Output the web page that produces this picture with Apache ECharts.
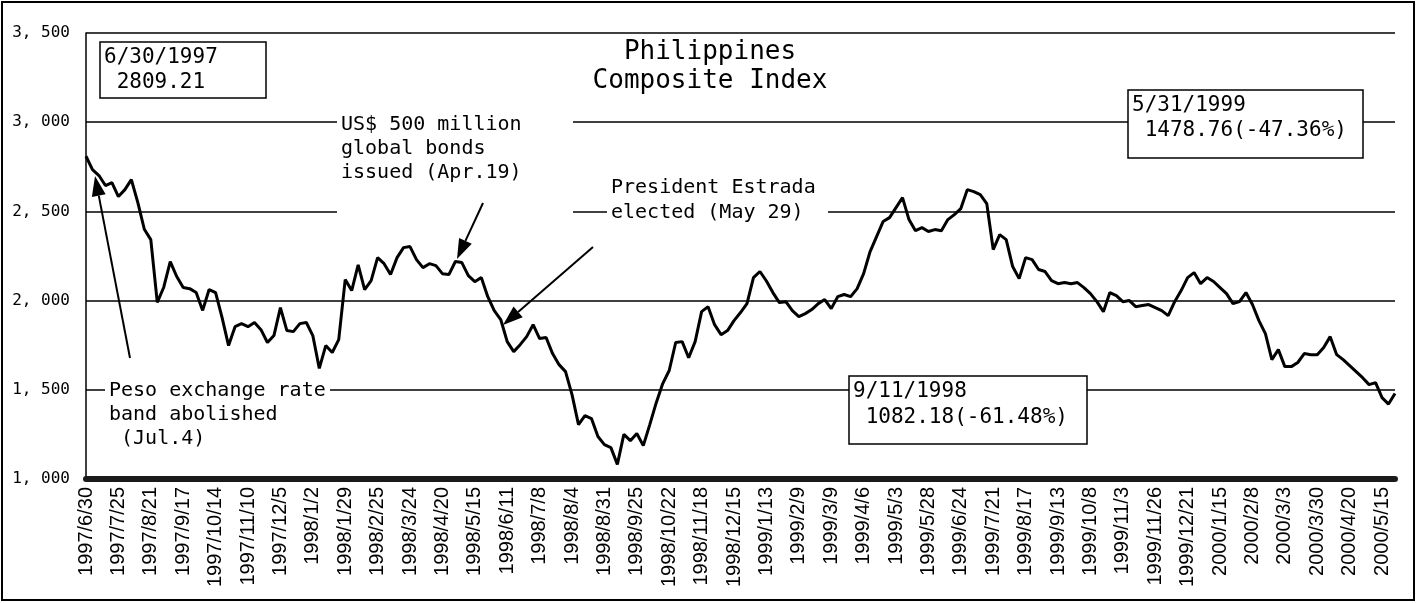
<!DOCTYPE html>
<html>
<head>
<meta charset="utf-8">
<script src="https://cdn.jsdelivr.net/npm/echarts@6/dist/echarts.min.js"></script>
<style>
  html, body { margin: 0; padding: 0; background: #fff; }
  #chart { width: 1417px; height: 603px; }
</style>
</head>
<body>
<div id="chart"></div>
<script>
  // labelled trading days on the x axis (one every 5 samples)
  const tickLabels = [
    '1997/6/30', '1997/7/25', '1997/8/21', '1997/9/17', '1997/10/14', '1997/11/10', '1997/12/5',
    '1998/1/2', '1998/1/29', '1998/2/25', '1998/3/24', '1998/4/20', '1998/5/15', '1998/6/11',
    '1998/7/8', '1998/8/4', '1998/8/31', '1998/9/25', '1998/10/22', '1998/11/18', '1998/12/15',
    '1999/1/13', '1999/2/9', '1999/3/9', '1999/4/6', '1999/5/3', '1999/5/28', '1999/6/24',
    '1999/7/21', '1999/8/17', '1999/9/13', '1999/10/8', '1999/11/3', '1999/11/26', '1999/12/21',
    '2000/1/15', '2000/2/8', '2000/3/3', '2000/3/30', '2000/4/20', '2000/5/15'
  ]
  const samplesPerTick = 5

  // Philippines Composite Index
  const composite = [
    2809, 2734, 2701, 2645, 2661, 2583, 2622, 2678, 2549, 2400,
    2342, 1990, 2075, 2219, 2135, 2073, 2067, 2045, 1945, 2062,
    2045, 1905, 1748, 1854, 1871, 1854, 1877, 1837, 1765, 1804,
    1961, 1832, 1826, 1871, 1877, 1804, 1620, 1748, 1709, 1781,
    2118, 2056, 2200, 2062, 2112, 2241, 2207, 2146, 2241, 2297,
    2303, 2230, 2185, 2207, 2196, 2151, 2146, 2219, 2213, 2140,
    2106, 2129, 2022, 1944, 1894, 1770, 1714, 1753, 1798, 1865,
    1787, 1793, 1703, 1641, 1602, 1473, 1305, 1355, 1339, 1238,
    1193, 1176, 1082, 1250, 1215, 1255, 1187, 1305, 1428, 1535,
    1608, 1765, 1770, 1680, 1770, 1938, 1966, 1865, 1809, 1832,
    1888, 1933, 1983, 2129, 2163, 2110, 2045, 1989, 1994, 1944,
    1910, 1927, 1950, 1983, 2006, 1955, 2022, 2034, 2022, 2067,
    2151, 2275, 2359, 2443, 2465, 2521, 2577, 2454, 2392, 2409,
    2387, 2398, 2392, 2454, 2482, 2516, 2622, 2611, 2594, 2544,
    2286, 2370, 2342, 2191, 2123, 2241, 2230, 2174, 2163, 2112,
    2095, 2101, 2095, 2101, 2073, 2039, 1994, 1938, 2045, 2028,
    1994, 2000, 1966, 1972, 1978, 1961, 1944, 1916, 1994, 2056,
    2129, 2157, 2095, 2129, 2107, 2073, 2039, 1983, 1994, 2045,
    1978, 1888, 1815, 1669, 1725, 1630, 1630, 1653, 1703, 1697,
    1697, 1737, 1798, 1697, 1669, 1636, 1602, 1568, 1529, 1540,
    1456, 1420, 1479
  ]

  const yTickLabels = ['1, 000', '1, 500', '2, 000', '2, 500', '3, 000', '3, 500']

  const categories = composite.map((v, i) =>
    i % samplesPerTick === 0 ? (tickLabels[i / samplesPerTick] || '') : '')

  const MONO = '"DejaVu Sans Mono", "Liberation Mono", monospace'

  function box(x, y, w, h, text, size, lh, border) {
    return [
      {
        type: 'rect', z: 10,
        shape: { x: x, y: y, width: w, height: h },
        style: { fill: '#fff', stroke: border ? '#000' : null, lineWidth: 1.5 }
      },
      {
        type: 'text', z: 11, x: x + 4, y: y + 3,
        style: { text: text, font: size + 'px ' + MONO, fill: '#000', lineHeight: lh }
      }
    ]
  }

  function arrow(x1, y1, x2, y2) {
    const a = Math.atan2(y2 - y1, x2 - x1)
    const len = 20
    const half = 7
    const bx = x2 - len * Math.cos(a)
    const by = y2 - len * Math.sin(a)
    const px = -Math.sin(a) * half
    const py = Math.cos(a) * half
    return [
      {
        type: 'line', z: 12,
        shape: { x1: x1, y1: y1, x2: bx, y2: by },
        style: { stroke: '#000', lineWidth: 2 }
      },
      {
        type: 'polygon', z: 12,
        shape: { points: [[x2, y2], [bx + px, by + py], [bx - px, by - py]] },
        style: { fill: '#000' }
      }
    ]
  }

  const chart = echarts.init(document.getElementById('chart'))

  chart.setOption({
    backgroundColor: '#fff',
    animation: false,
    grid: { left: 86, right: 22, top: 33, bottom: 124 },
    xAxis: {
      type: 'category',
      data: categories,
      boundaryGap: false,
      axisLine: { lineStyle: { color: '#1a1a1a', width: 6 } },
      axisTick: { show: false },
      axisLabel: {
        interval: (i) => i % samplesPerTick === 0,
        rotate: 90,
        margin: 8,
        color: '#000',
        fontFamily: '"Liberation Sans", Arial, sans-serif',
        fontSize: 20
      },
      splitLine: { show: false }
    },
    yAxis: {
      type: 'value',
      min: 1000,
      max: 3500,
      interval: 500,
      axisLine: { show: true, lineStyle: { color: '#000', width: 1.5 } },
      axisTick: { show: false },
      axisLabel: {
        margin: 16,
        color: '#000',
        fontFamily: MONO,
        fontSize: 16,
        formatter: (v) => yTickLabels[(v - 1000) / 500]
      },
      splitLine: { lineStyle: { color: '#000', width: 1.5 } }
    },
    series: [{
      type: 'line',
      data: composite,
      showSymbol: false,
      symbol: 'none',
      lineStyle: { color: '#000', width: 3 },
      z: 5
    }],
    graphic: [
      {
        type: 'rect', z: 20, silent: true,
        shape: { x: 2, y: 2, width: 1412, height: 598 },
        style: { fill: null, stroke: '#000', lineWidth: 2 }
      },
      {
        type: 'text', z: 11, x: 710, y: 38,
        style: {
          text: 'Philippines\nComposite Index',
          font: '26px ' + MONO, fill: '#000', align: 'center', lineHeight: 29
        }
      },
      ...box(100, 42, 166, 56, '6/30/1997\n 2809.21', 21, 25, true),
      ...box(1128, 90, 235, 68, '5/31/1999\n 1478.76(-47.36%)', 21, 25, true),
      ...box(849, 376, 238, 68, '9/11/1998\n 1082.18(-61.48%)', 21, 26, true),
      ...box(337, 110, 236, 106, 'US$ 500 million\nglobal bonds\nissued (Apr.19)', 20, 24, false),
      ...box(607, 172, 221, 52, 'President Estrada\nelected (May 29)', 20, 25, false),
      ...box(105, 376, 225, 74, 'Peso exchange rate\nband abolished\n (Jul.4)', 20, 24, false),
      ...arrow(130, 358, 95, 176),
      ...arrow(483, 203, 457, 259),
      ...arrow(593, 247, 503, 325)
    ]
  })
</script>
</body>
</html>
